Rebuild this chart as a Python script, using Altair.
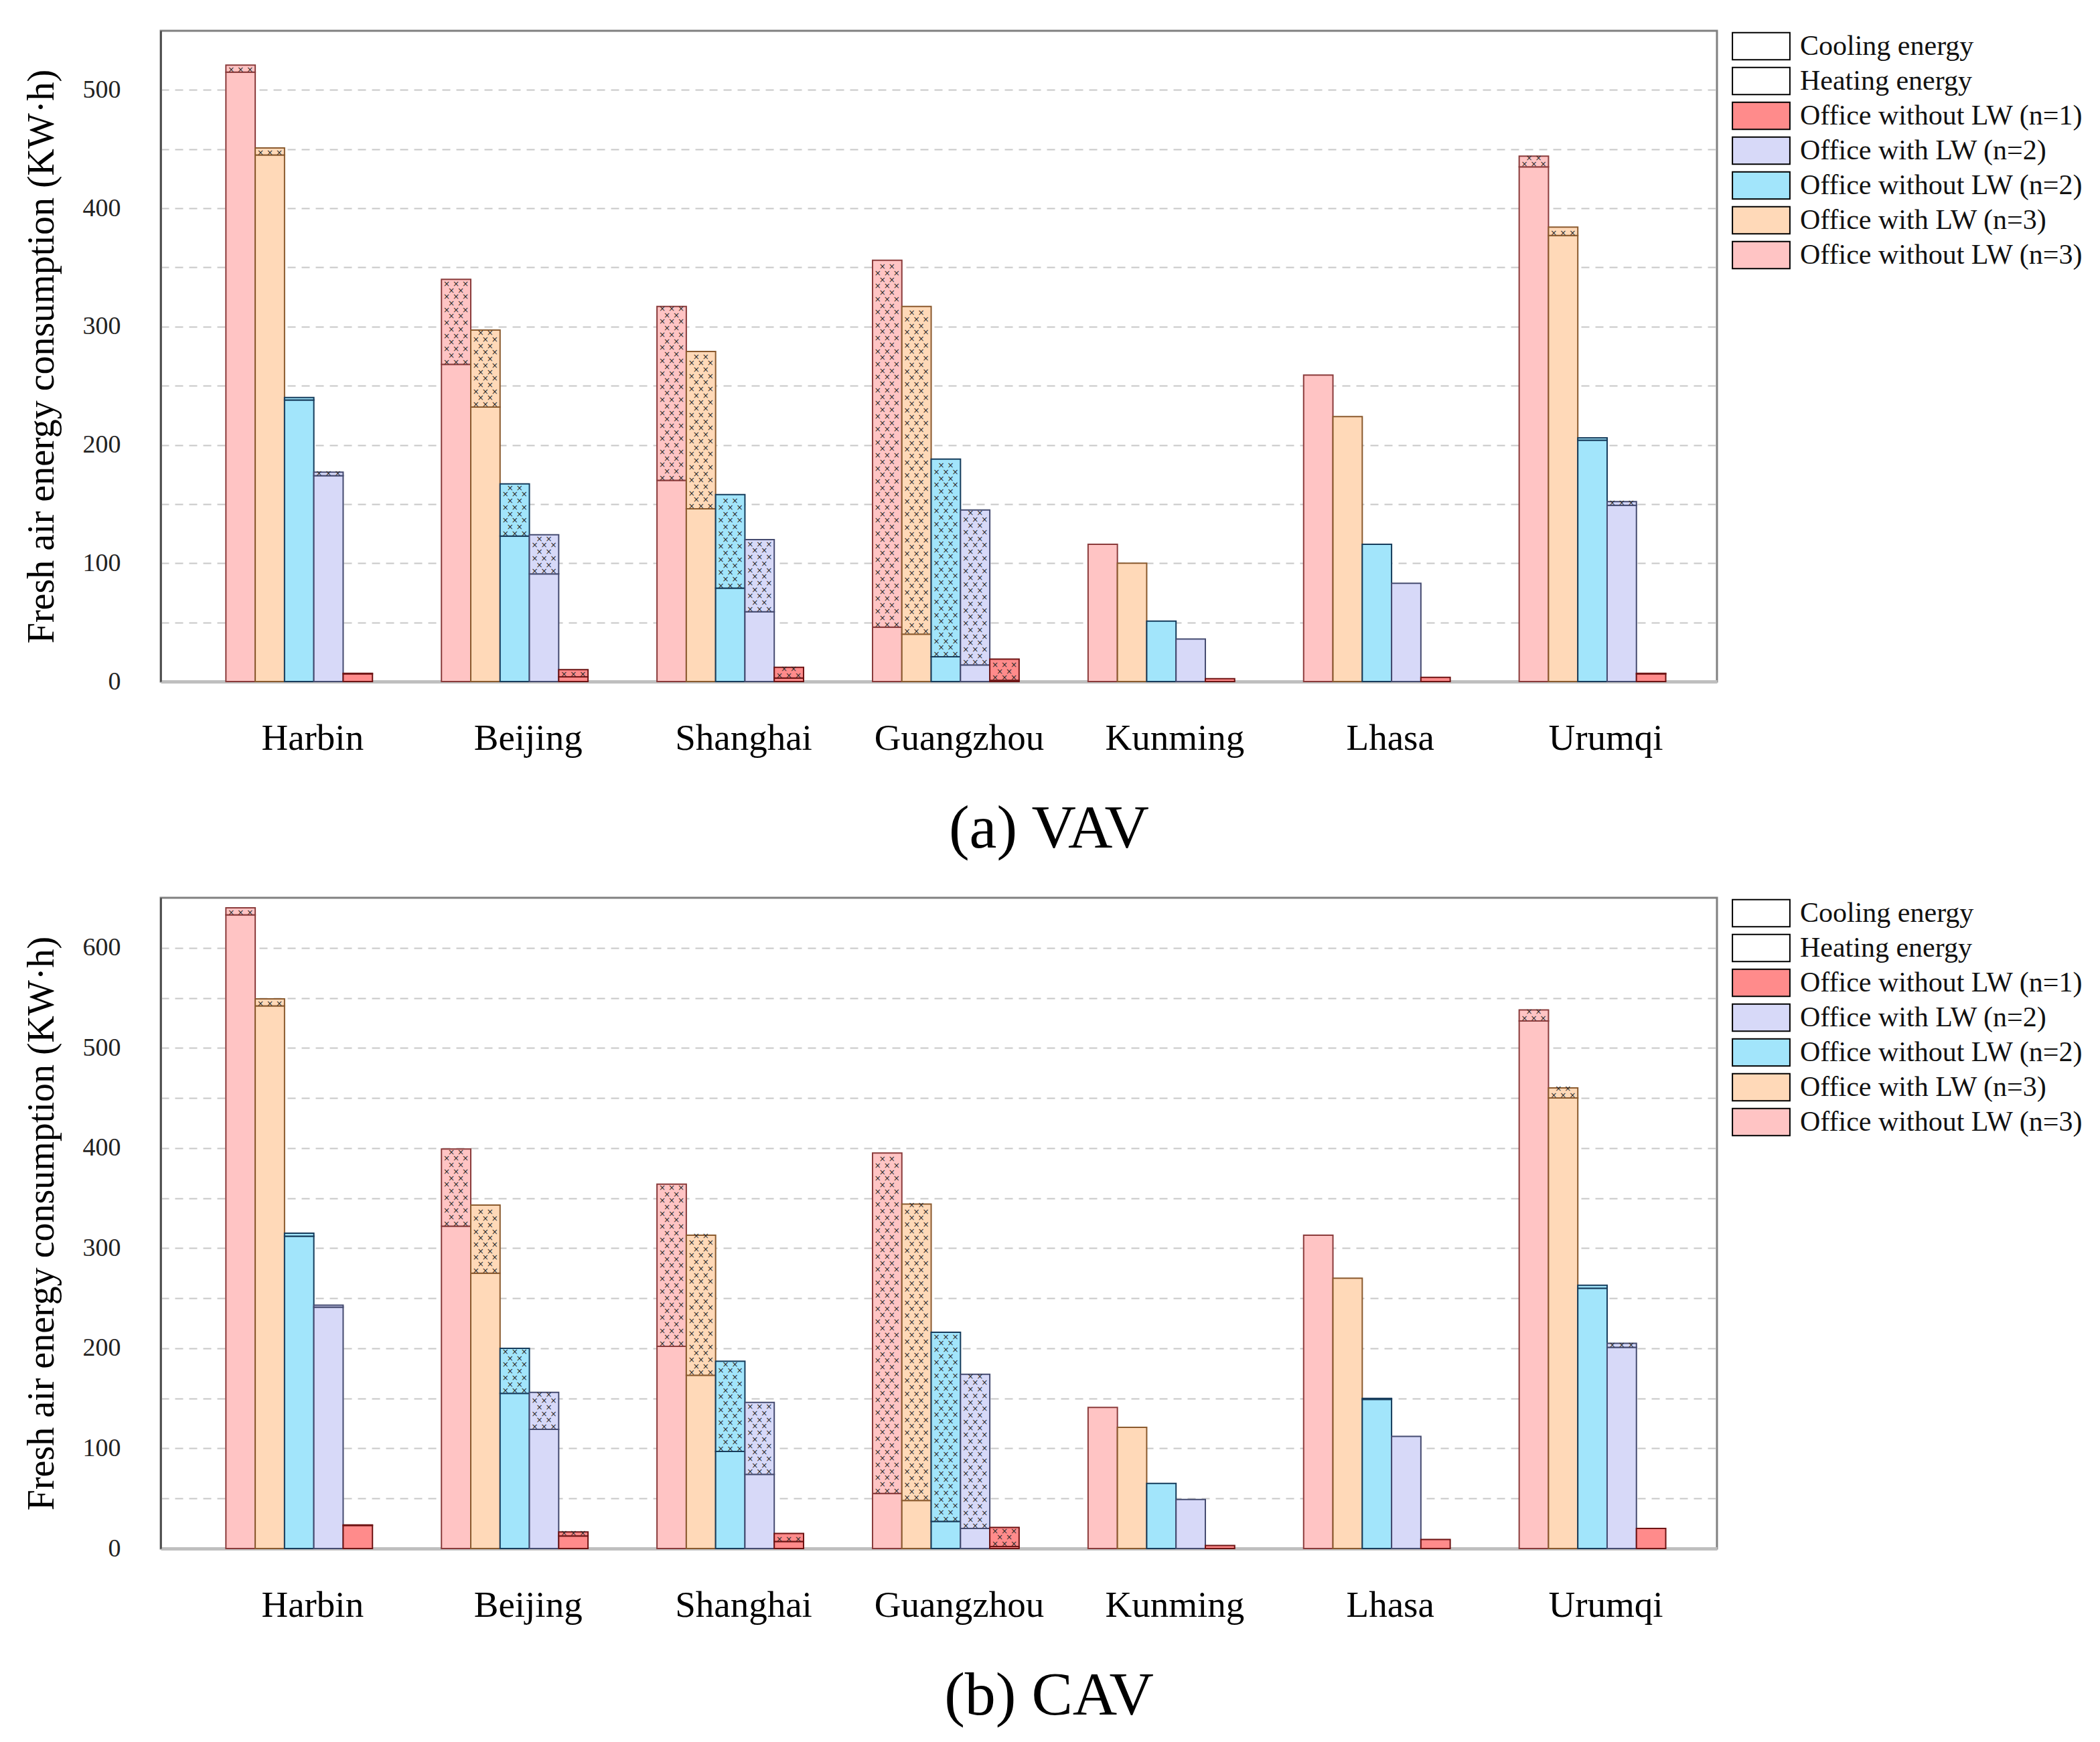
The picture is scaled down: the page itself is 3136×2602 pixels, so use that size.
import altair as alt
import pandas as pd

# categories
cities = ["Harbin", "Beijing", "Shanghai", "Guangzhou", "Kunming", "Lhasa", "Urumqi"]
series = [
    "Office without LW (n=3)",
    "Office with LW (n=3)",
    "Office without LW (n=2)",
    "Office with LW (n=2)",
    "Office without LW (n=1)",
]
legend_order = [
    "Cooling energy",
    "Heating energy",
    "Office without LW (n=1)",
    "Office with LW (n=2)",
    "Office without LW (n=2)",
    "Office with LW (n=3)",
    "Office without LW (n=3)",
]
fill_colors = ["#FFC4C4", "#FFD9B8", "#A2E5FB", "#D7D9F8", "#FF8B8B"]
stroke_colors = ["#8A3B3B", "#8A5A2E", "#163C5C", "#454B70", "#6E1414"]

# (a) VAV - heating part of each bar
vav_heat_wo3 = [515, 268, 170, 46, 116, 259, 435]
vav_heat_w3 = [445, 232, 146, 40, 100, 224, 377]
vav_heat_wo2 = [238, 123, 79, 21, 51, 116, 204]
vav_heat_w2 = [174, 91, 59, 14, 36, 83, 149]
vav_heat_wo1 = [6.5, 4, 3, 1, 2.4, 3.6, 6.5]
# (a) VAV - cooling part
vav_cool_wo3 = [6, 72, 147, 310, 0, 0, 9]
vav_cool_w3 = [6, 65, 133, 277, 0, 0, 7]
vav_cool_wo2 = [2, 44, 79, 167, 0, 0, 2]
vav_cool_w2 = [3, 33, 61, 131, 0, 0, 3]
vav_cool_wo1 = [0.5, 6, 9, 18, 0, 0, 0.5]

# (b) CAV - heating part
cav_heat_wo3 = [633, 322, 202, 55, 141, 313, 527]
cav_heat_w3 = [542, 275, 173, 48, 121, 270, 450]
cav_heat_wo2 = [312, 155, 97, 27, 65, 149, 260]
cav_heat_w2 = [241, 119, 74, 20, 49, 112, 201]
cav_heat_wo1 = [23, 12.5, 7, 2, 3, 9, 20]
# (b) CAV - cooling part
cav_cool_wo3 = [7, 77, 162, 340, 0, 0, 11]
cav_cool_w3 = [7, 68, 140, 296, 0, 0, 10]
cav_cool_wo2 = [3, 45, 90, 189, 0, 1, 3]
cav_cool_w2 = [2, 37, 72, 154, 0, 0, 4]
cav_cool_wo1 = [0.5, 4, 8, 19, 0, 0, 0]

FONT = "Liberation Serif"


def make_frame(heats, cools):
    rows = []
    for s, h, c in zip(series, heats, cools):
        for city, hv, cv in zip(cities, h, c):
            rows.append({"city": city, "series": s, "heat": hv, "cool": cv, "top": hv + cv})
    return pd.DataFrame(rows)


def make_dots(df, step):
    # texture marks for the cooling (hatched) segments
    rows = []
    for r in df.itertuples():
        if r.cool <= 0:
            continue
        k = 0
        y = r.heat + step / 2
        while y < r.top:
            rows.append({"city": r.city, "series": r.series, "y": y, "odd": k % 2})
            k += 1
            y += step
    return pd.DataFrame(rows)


def panel(df, step, ymax, caption):
    x = alt.X(
        "city:N", sort=cities,
        scale=alt.Scale(paddingInner=0.32, paddingOuter=0.27, align=0.56),
        axis=alt.Axis(
            title=caption, titleFont=FONT, titleFontSize=92, titleFontWeight="normal",
            titleColor="black", titlePadding=62, titleX=1326, titleAlign="center",
            labelFont=FONT, labelFontSize=55, labelColor="black", labelPadding=58,
            labelOffset=20, labelLimit=1000, labelAngle=0, ticks=False,
            domainColor="#bfbfbf", domainWidth=5,
        ),
    )
    xo = alt.XOffset("series:N", sort=series, scale=alt.Scale(domain=series, paddingInner=0, paddingOuter=0))
    yaxis = alt.Axis(
        title="Fresh air energy consumption (KW·h)", titleFont=FONT, titleFontSize=56,
        titleFontWeight="normal", titleColor="black", titlePadding=32,
        values=list(range(0, ymax, 50)),
        labelExpr="datum.value % 100 == 0 ? datum.label : ''",
        labelFont=FONT, labelFontSize=38, labelColor="#222", labelPadding=60,
        ticks=False, grid=True, gridDash=[12, 9], gridColor="#c8c8c8", gridWidth=2,
        domainColor="#333", domainWidth=2,
    )
    yscale = alt.Scale(domain=[0, ymax], nice=False)
    fill = alt.Fill(
        "series:N",
        scale=alt.Scale(domain=legend_order,
                        range=["white", "white"] + fill_colors[::-1]),
        legend=alt.Legend(
            title=None, orient="right", offset=43, padding=0,
            symbolType="M-1.95,-0.92H1.95V0.92H-1.95Z", symbolSize=1936,
            symbolStrokeColor="black", symbolStrokeWidth=2, symbolOpacity=1,
            labelFont=FONT, labelFontSize=42, labelColor="#111", labelLimit=800,
            labelOffset=35, rowPadding=2,
        ),
    )
    stroke = alt.Stroke("series:N", scale=alt.Scale(domain=series, range=stroke_colors), legend=None)

    base = alt.Chart(df)
    heat = base.mark_bar(strokeWidth=2).encode(
        x=x, xOffset=xo, y=alt.Y("heat:Q", scale=yscale, axis=yaxis), fill=fill, stroke=stroke,
    )
    cool = base.transform_filter("datum.cool > 0").mark_bar(strokeWidth=2).encode(
        x=x, xOffset=xo, y=alt.Y("top:Q", scale=yscale, axis=yaxis), y2="heat:Q",
        fill=fill, stroke=stroke,
    )
    dots = make_dots(df, step)
    layers = [heat, cool]
    for odd, offsets in ((0, (-14, 0, 14)), (1, (-7, 7))):
        for dx in offsets:
            layers.append(
                alt.Chart(dots).transform_filter(f"datum.odd == {odd}")
                .mark_text(text="×", dx=dx, dy=1, fontSize=12, color="#2a2a2a", font="DejaVu Sans")
                .encode(x=x, xOffset=xo, y=alt.Y("y:Q", scale=yscale, axis=yaxis))
            )
    return alt.layer(*layers).properties(width=2324, height=972)


vav = make_frame(
    [vav_heat_wo3, vav_heat_w3, vav_heat_wo2, vav_heat_w2, vav_heat_wo1],
    [vav_cool_wo3, vav_cool_w3, vav_cool_wo2, vav_cool_w2, vav_cool_wo1],
)
cav = make_frame(
    [cav_heat_wo3, cav_heat_w3, cav_heat_wo2, cav_heat_w2, cav_heat_wo1],
    [cav_cool_wo3, cav_cool_w3, cav_cool_wo2, cav_cool_w2, cav_cool_wo1],
)

top = panel(vav, 5.5, 550, "(a) VAV")
bottom = panel(cav, 6.5, 650, "(b) CAV")

chart = (
    alt.vconcat(top, bottom, spacing=54)
    .resolve_scale(y="independent", fill="independent", stroke="independent")
    .properties(padding={"left": 24, "top": 36, "right": 10, "bottom": 10}, background="white")
    .configure_view(stroke="#808080", strokeWidth=3)
)

chart.save("out.html", embed_options={"renderer": "svg", "actions": False})
